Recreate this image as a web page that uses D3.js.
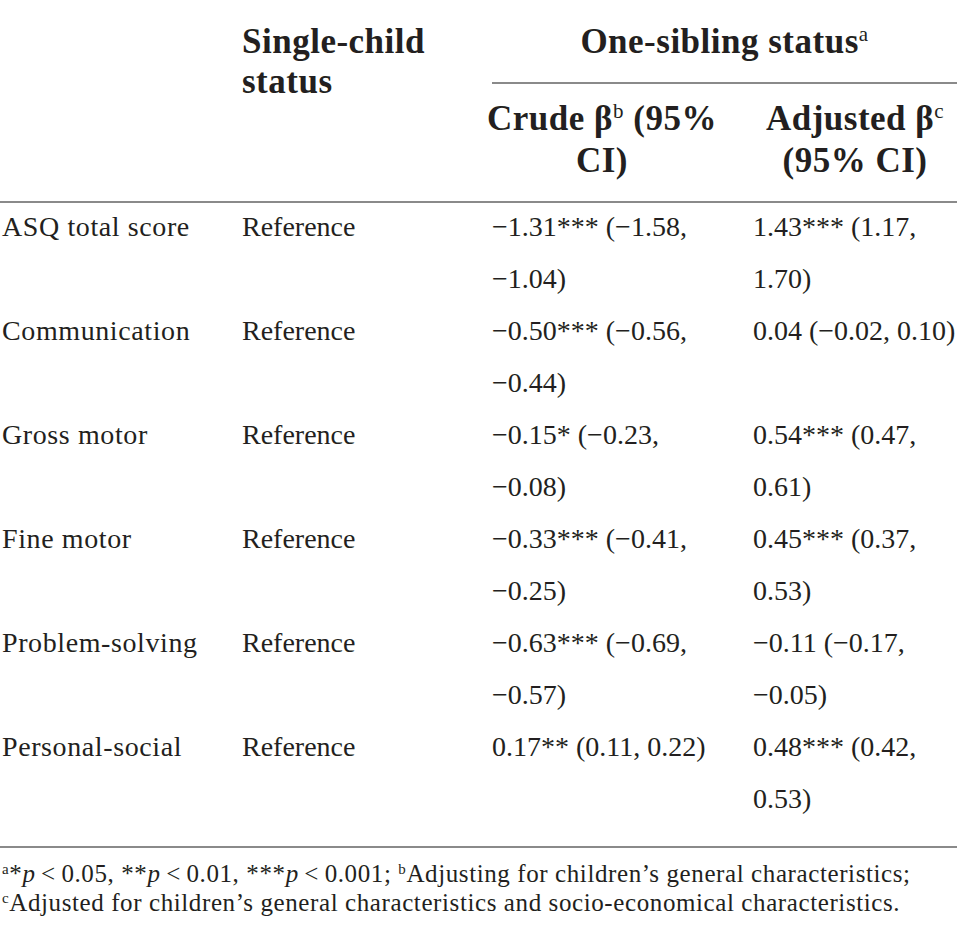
<!DOCTYPE html>
<html>
<head>
<meta charset="utf-8">
<script src="https://cdn.jsdelivr.net/npm/d3@7"></script>
<style>
  body { margin: 0; background: #fff; }
  svg { display: block; }
</style>
</head>
<body>
<div class="table_chart"></div>
<script>
// table content
var outcomes = ["ASQ total score", "Communication", "Gross motor", "Fine motor", "Problem-solving", "Personal-social"];
var singleChild = ["Reference", "Reference", "Reference", "Reference", "Reference", "Reference"];
var crudeBeta = [-1.31, -0.50, -0.15, -0.33, -0.63, 0.17];
var crudeLo = [-1.58, -0.56, -0.23, -0.41, -0.69, 0.11];
var crudeHi = [-1.04, -0.44, -0.08, -0.25, -0.57, 0.22];
var crudeSig = ["***", "***", "*", "***", "***", "**"];
var adjBeta = [1.43, 0.04, 0.54, 0.45, -0.11, 0.48];
var adjLo = [1.17, -0.02, 0.47, 0.37, -0.17, 0.42];
var adjHi = [1.70, 0.10, 0.61, 0.53, -0.05, 0.53];
var adjSig = ["***", "", "***", "***", "", "***"];

var W = 957, H = 936;
var ink = "#231f20";
var serif = "'Liberation Serif', 'Times New Roman', serif";
var bodySize = 28;

var svg = d3.select(".table_chart")
    .append("svg")
    .attr("width", W)
    .attr("height", H)
    .style("font-family", serif)

var fmt = d3.format(".2f");
function num(v) { return fmt(v).replace("-", "\u2212"); }

// columns and rows
var colX = d3.scaleOrdinal()
    .domain(["outcome", "single", "crude", "adjusted"])
    .range([2, 242, 492, 753]);
var colWrap = { crude: 222, adjusted: 212 };
var rowY = d3.scaleLinear().domain([0, 1]).range([236, 340]);
var lineGap = 52;

// rich text helper: segments of {t, sup, it}
function rich(g, x, y, segs, size, weight, anchor, spacing) {
    var t = g.append("text")
        .attr("x", x)
        .attr("y", y)
        .attr("text-anchor", anchor || "start")
        .style("font-size", size + "px")
        .style("font-weight", weight || "normal")
        .style("letter-spacing", (spacing || 0) + "px")
        .attr("fill", ink)
    segs.forEach(function (s) {
        var sp = t.append("tspan").text(s.t);
        if (s.sup) sp.attr("baseline-shift", "super").style("font-size", (size * 0.6) + "px").style("font-weight", "normal");
        if (s.it) sp.style("font-style", "italic");
    });
    return t;
}

// header rules
svg.append("line")
    .attr("x1", colX("crude")).attr("x2", W)
    .attr("y1", 83).attr("y2", 83)
    .style("stroke", "#8a8a8a").style("stroke-width", 2)
svg.append("line")
    .attr("x1", 0).attr("x2", W)
    .attr("y1", 202).attr("y2", 202)
    .style("stroke", "#8a8a8a").style("stroke-width", 2)
svg.append("line")
    .attr("x1", 0).attr("x2", W)
    .attr("y1", 847).attr("y2", 847)
    .style("stroke", "#8a8a8a").style("stroke-width", 2)

// header text
var hs = 35, hsp = 0.5;
rich(svg, colX("single"), 53, [{ t: "Single-child" }], hs, "bold", "start", hsp);
rich(svg, colX("single"), 93, [{ t: "status" }], hs, "bold", "start", hsp);
rich(svg, (colX("crude") + W) / 2, 53, [{ t: "One-sibling status" }, { t: "a", sup: true }], hs, "bold", "middle", hsp);
rich(svg, 602, 130, [{ t: "Crude \u03b2" }, { t: "b", sup: true }, { t: " (95%" }], hs, "bold", "middle", hsp);
rich(svg, 602, 172, [{ t: "CI)" }], hs, "bold", "middle", hsp);
rich(svg, 855, 130, [{ t: "Adjusted \u03b2" }, { t: "c", sup: true }], hs, "bold", "middle", hsp);
rich(svg, 855, 172, [{ t: "(95% CI)" }], hs, "bold", "middle", hsp);

// wrap a cell string into lines by measured width
function wrapCell(str, maxW) {
    var words = str.split(" ");
    var probe = svg.append("text").style("font-size", bodySize + "px");
    var lines = [], cur = "";
    words.forEach(function (w) {
        var test = cur ? cur + " " + w : w;
        probe.text(test);
        if (cur && probe.node().getComputedTextLength() > maxW) {
            lines.push(cur);
            cur = w;
        } else {
            cur = test;
        }
    });
    lines.push(cur);
    probe.remove();
    return lines;
}

function cell(col, i, str) {
    var lines = col in colWrap ? wrapCell(str, colWrap[col]) : [str];
    lines.forEach(function (l, k) {
        svg.append("text")
            .attr("x", colX(col))
            .attr("y", rowY(i) + k * lineGap)
            .text(l)
            .style("font-size", bodySize + "px")
            .style("letter-spacing", col === "outcome" ? "0.6px" : "0px")
            .attr("fill", ink)
    });
}

outcomes.forEach(function (o, i) {
    cell("outcome", i, o);
    cell("single", i, singleChild[i]);
    cell("crude", i, num(crudeBeta[i]) + crudeSig[i] + " (" + num(crudeLo[i]) + ", " + num(crudeHi[i]) + ")");
    cell("adjusted", i, num(adjBeta[i]) + adjSig[i] + " (" + num(adjLo[i]) + ", " + num(adjHi[i]) + ")");
});

// footnotes
var fs = 25, fsp = 0.6;
rich(svg, 2, 882, [
    { t: "a", sup: true }, { t: "*" }, { t: "p", it: true }, { t: "\u2009<\u20090.05, **" },
    { t: "p", it: true }, { t: "\u2009<\u20090.01, ***" }, { t: "p", it: true },
    { t: "\u2009<\u20090.001; " }, { t: "b", sup: true },
    { t: "Adjusting for children\u2019s general characteristics;" }
], fs, "normal", "start", fsp);
rich(svg, 2, 911, [
    { t: "c", sup: true },
    { t: "Adjusted for children\u2019s general characteristics and socio-economical characteristics." }
], fs, "normal", "start", fsp);
</script>
</body>
</html>
